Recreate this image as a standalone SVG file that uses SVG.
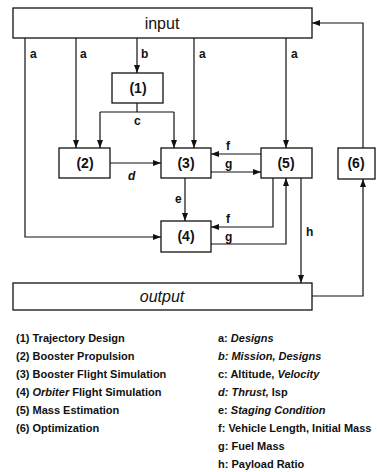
<svg xmlns="http://www.w3.org/2000/svg" width="377" height="472" viewBox="0 0 377 472">
<style>
.box{fill:#fff;stroke:#111;stroke-width:1.3}
.ln{fill:none;stroke:#111;stroke-width:1.2}
.nl{font-family:"Liberation Sans",Arial,sans-serif;font-size:14px;font-weight:bold;fill:#111;text-anchor:middle}
.big{font-family:"Liberation Sans",Arial,sans-serif;font-size:16px;fill:#111;text-anchor:middle}
.lb{font-family:"Liberation Sans",Arial,sans-serif;font-size:12px;font-weight:bold;fill:#111}
.lg{font-family:"Liberation Sans",Arial,sans-serif;font-size:11px;font-weight:bold;fill:#111}
.it{font-style:italic}
</style>
<defs>
<marker id="ah" markerWidth="8" markerHeight="6" refX="8" refY="3" orient="auto" markerUnits="userSpaceOnUse">
<path d="M0,0 L8,3 L0,6 z" fill="#111"/>
</marker>
</defs>
<rect width="377" height="472" fill="#fff"/>
<g id="connectors">
<path class="ln" d="M25,38 V237 H161" marker-end="url(#ah)"/>
<path class="ln" d="M76,38 V148" marker-end="url(#ah)"/>
<path class="ln" d="M137,38 V73" marker-end="url(#ah)"/>
<path class="ln" d="M194,38 V148" marker-end="url(#ah)"/>
<path class="ln" d="M286,38 V148" marker-end="url(#ah)"/>
<path class="ln" d="M137,103 V112"/>
<path class="ln" d="M100,112 H174"/>
<path class="ln" d="M100,112 V148" marker-end="url(#ah)"/>
<path class="ln" d="M174,112 V148" marker-end="url(#ah)"/>
<path class="ln" d="M110,163 H161" marker-end="url(#ah)"/>
<path class="ln" d="M261,154 H211" marker-end="url(#ah)"/>
<path class="ln" d="M211,172 H261" marker-end="url(#ah)"/>
<path class="ln" d="M185,178 V221" marker-end="url(#ah)"/>
<path class="ln" d="M273,178 V227 H211" marker-end="url(#ah)"/>
<path class="ln" d="M211,244 H286 V178" marker-end="url(#ah)"/>
<path class="ln" d="M301,178 V283" marker-end="url(#ah)"/>
<path class="ln" d="M312,296 H363 V179" marker-end="url(#ah)"/>
<path class="ln" d="M363,148 V23 H312" marker-end="url(#ah)"/>
<text class="lb" x="30" y="58">a</text>
<text class="lb" x="80" y="58">a</text>
<text class="lb" x="141" y="58">b</text>
<text class="lb" x="199" y="58">a</text>
<text class="lb" x="291" y="58">a</text>
<text class="lb" x="134" y="125">c</text>
<text class="lb it" x="128" y="180">d</text>
<text class="lb" x="175" y="203">e</text>
<text class="lb" x="226" y="150">f</text>
<text class="lb" x="225" y="168">g</text>
<text class="lb" x="226" y="223">f</text>
<text class="lb" x="225" y="241">g</text>
<text class="lb" x="306" y="236">h</text>
</g>
<g id="input"><rect class="box" x="13" y="8" width="299" height="30"/><text class="big" x="162" y="29">input</text></g>
<g id="n1"><rect class="box" x="112" y="73" width="51" height="30"/><text class="nl" x="138" y="93">(1)</text></g>
<g id="n2"><rect class="box" x="59" y="148" width="51" height="30"/><text class="nl" x="85" y="168">(2)</text></g>
<g id="n3"><rect class="box" x="161" y="148" width="50" height="30"/><text class="nl" x="186" y="168">(3)</text></g>
<g id="n5"><rect class="box" x="261" y="148" width="51" height="30"/><text class="nl" x="286" y="168">(5)</text></g>
<g id="n6"><rect class="box" x="338" y="148" width="37" height="31"/><text class="nl" x="356" y="168">(6)</text></g>
<g id="n4"><rect class="box" x="161" y="221" width="50" height="31"/><text class="nl" x="186" y="241">(4)</text></g>
<g id="output"><rect class="box" x="13" y="283" width="299" height="27"/><text class="big it" x="162" y="302">output</text></g>
<g id="legend">
<text class="lg" x="16" y="342">(1) Trajectory Design</text>
<text class="lg" x="16" y="360">(2) Booster Propulsion</text>
<text class="lg" x="16" y="378">(3) Booster Flight Simulation</text>
<text class="lg" x="16" y="396">(4) <tspan class="it">Orbiter</tspan> Flight Simulation</text>
<text class="lg" x="16" y="414">(5) Mass Estimation</text>
<text class="lg" x="16" y="432">(6) Optimization</text>
<text class="lg" x="218" y="342">a: <tspan class="it">Designs</tspan></text>
<text class="lg it" x="218" y="360">b: Mission, Designs</text>
<text class="lg" x="218" y="378">c: Altitude, <tspan class="it">Velocity</tspan></text>
<text class="lg" x="218" y="396"><tspan class="it">d: Thrust,</tspan> Isp</text>
<text class="lg" x="218" y="414">e: <tspan class="it">Staging Condition</tspan></text>
<text class="lg" x="218" y="432">f: Vehicle Length, Initial Mass</text>
<text class="lg" x="218" y="450">g: Fuel Mass</text>
<text class="lg" x="218" y="468">h: Payload Ratio</text>
</g>
</svg>
